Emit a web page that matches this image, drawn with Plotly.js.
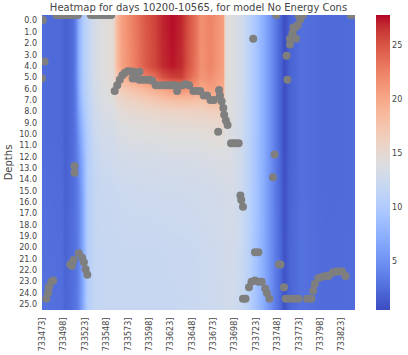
<!DOCTYPE html>
<html><head><meta charset="utf-8">
<script src="https://cdn.plot.ly/plotly-3.0.1.min.js"></script>
<style>html,body{margin:0;padding:0;background:#fff}#chart{width:408px;height:355px}</style>
</head><body><div id="chart"></div>
<script>
// Day index (0 = ordinal day 733473) of each sampled heatmap column
const colDayIdx = [0,22,26,34,38,42,46,52,60,70,82,86,92,100,110,120,130,140,152,162,170,178,186,196,206,211,214,222,232,242,250,258,265,272,278,283,288,302,330,365];
// Depth rows sampled
const rowDepths = [0,4,5,6,7,8,9,10,12,15,20,25];
// Temperature, one row per depth in rowDepths
const temps = [
 [2.4,2.2,1.6,2.4,3.6,6.8,9.8,11.4,13.2,14.1,14.8,18.2,20.5,21.8,23.4,24.8,25.8,27.0,27.6,27.0,25.2,23.6,21.6,22.4,21.2,20.6,14.5,14.0,12.9,11.0,9.2,7.2,5.3,3.4,2.0,0.6,1.8,2.7,2.3,2.4],
 [2.4,2.2,1.6,2.4,3.6,6.8,9.8,11.4,13.2,14.1,14.8,18.0,20.3,21.6,23.2,24.6,25.6,26.8,27.4,26.8,25.0,23.4,21.5,22.3,21.1,20.5,14.5,14.0,12.9,11.0,9.2,7.2,5.3,3.4,2.0,0.6,1.8,2.7,2.3,2.4],
 [2.4,2.2,1.6,2.4,3.6,6.7,9.7,11.3,13.1,14.0,14.7,17.0,19.0,20.0,21.0,22.5,23.5,25.0,26.0,26.0,24.2,22.8,21.2,21.8,20.7,20.3,14.5,14.0,12.9,11.0,9.2,7.2,5.3,3.4,2.0,0.6,1.8,2.7,2.3,2.4],
 [2.4,2.2,1.6,2.4,3.5,6.5,9.5,11.2,13.0,13.9,14.5,16.0,16.8,17.5,18.2,18.8,19.5,20.2,21.0,21.5,21.2,20.8,20.0,20.6,20.0,19.7,14.4,14.0,12.9,11.0,9.2,7.2,5.3,3.4,2.0,0.6,1.8,2.7,2.3,2.4],
 [2.4,2.2,1.6,2.4,3.4,6.2,9.2,11.0,12.8,13.7,14.2,15.0,15.5,15.9,16.3,16.7,17.2,17.6,18.0,18.2,18.2,18.0,17.8,18.6,18.5,18.4,14.4,13.9,12.8,11.0,9.2,7.2,5.3,3.4,2.0,0.6,1.8,2.7,2.3,2.4],
 [2.4,2.2,1.6,2.4,3.3,5.8,8.8,10.8,12.6,13.4,13.8,14.3,14.6,14.9,15.1,15.3,15.5,15.6,15.8,15.9,16.0,16.0,16.0,16.4,16.5,16.5,14.3,13.9,12.8,11.0,9.2,7.2,5.3,3.4,2.0,0.6,1.8,2.7,2.3,2.4],
 [2.4,2.2,1.6,2.4,3.2,5.4,8.3,10.6,12.4,13.1,13.4,13.8,14.1,14.3,14.4,14.5,14.6,14.7,14.8,14.9,15.0,15.0,15.0,15.2,15.3,15.3,14.2,13.8,12.7,10.9,9.2,7.2,5.3,3.4,2.0,0.6,1.8,2.7,2.3,2.4],
 [2.4,2.2,1.6,2.4,3.1,5.0,7.8,10.4,12.2,12.9,13.1,13.4,13.7,13.9,14.0,14.1,14.2,14.2,14.3,14.3,14.3,14.3,14.4,14.6,14.7,14.7,14.1,13.7,12.7,10.9,9.2,7.2,5.3,3.4,2.0,0.6,1.8,2.7,2.3,2.4],
 [2.5,2.3,1.7,2.4,3.0,4.4,7.0,10.2,11.9,12.5,12.7,12.9,13.0,13.1,13.2,13.2,13.3,13.3,13.4,13.4,13.4,13.5,13.5,13.6,13.8,13.8,13.8,13.5,12.6,10.9,9.1,7.2,5.3,3.4,2.0,0.6,1.8,2.7,2.3,2.4],
 [2.6,2.4,1.8,2.4,2.9,3.8,6.4,10.2,11.7,12.1,12.2,12.3,12.4,12.4,12.5,12.5,12.5,12.6,12.6,12.6,12.7,12.7,12.8,12.9,13.0,13.1,13.3,13.2,12.4,10.8,9.1,7.1,5.3,3.4,2.1,0.7,1.9,2.7,2.3,2.4],
 [2.7,2.5,1.9,2.5,2.9,3.7,6.3,10.2,11.7,11.9,12.0,12.0,12.1,12.1,12.1,12.1,12.1,12.1,12.2,12.2,12.2,12.3,12.4,12.5,12.6,12.7,13.0,12.9,12.3,10.8,9.0,7.1,5.3,3.5,2.2,0.8,2.0,2.8,2.4,2.5],
 [2.8,2.6,2.0,2.6,3.0,3.8,6.4,10.3,11.7,11.9,12.0,12.0,12.0,12.0,12.0,12.0,12.0,12.0,12.0,12.1,12.1,12.2,12.3,12.4,12.5,12.6,12.9,12.8,12.2,10.8,9.0,7.1,5.3,3.5,2.2,0.8,2.0,2.8,2.4,2.5]
];
// Gray points: day index and depth
const pointDayIdx = [1,3,0,
 17,20,23,26,29,32,35,38,42, 57,60,63,66,69,72,75,78,81,
 38,38,
 5,7,8,11,13,
 33,35,37,43,47,49,51,53,
 85,88,91,94,97,100,103,107,114,
 106,110,114,118,122,126,129,
 133,137,141,145,149,153,156,158,
 164,168,172,177,181,185,189,193,197,201,
 207,208,210,212,213,215,217,206,
 221,224,227,230,
 247,272,270,274,300,305,302,299,294,296,293,290,297,290,286,287,361,365,
 232,233,235,249,253,277,279,245,249,253,257,242,261,263,266,235,238,283,
 285,290,295,300,310,315,317,319,323,327,331,335,340,344,348,351,355];
const pointDepths = [0.45,4.1,5.6,
 0,0,0,0,0,0,0,0,0, 0,0,0,0,0,0,0,0,0,
 13.3,13.9,
 25.0,24.5,24.0,23.5,23.4,
 22.0,22.1,21.6,21.0,21.4,21.8,22.4,22.9,
 6.7,6.2,5.7,5.3,5.1,4.95,4.95,5.0,5.0,
 5.6,5.6,5.7,5.7,5.7,5.7,5.8,
 6.2,6.2,6.2,6.2,6.2,6.2,6.2,6.7,
 6.2,6.1,6.2,6.7,6.7,6.7,7.1,7.1,7.5,7.5,
 6.6,7.1,7.6,8.2,8.8,9.3,9.7,10.3,
 11.3,11.3,11.3,11.3,
 2.1,12.3,14.3,0,0,0,0.4,0.9,1.1,1.1,1.6,2.1,2.1,2.6,3.6,5.7,0,0,
 15.9,16.3,16.9,20.9,20.9,22.0,22.0,23.5,23.4,23.5,23.5,24.0,24.1,24.5,25.0,25.0,25.0,24.0,
 25.0,25.0,25.0,25.0,25.0,25.0,24.3,23.7,23.2,23.1,23.0,23.0,22.7,22.6,22.6,22.6,23.0];
const xTickIdx = [0,25,50,75,100,125,150,175,200,225,250,275,300,325,350];
const xTickLabels = ['733473]','733498]','733523]','733548]','733573]','733598]','733623]','733648]','733673]','733698]','733723]','733748]','733773]','733798]','733823]'];
const yTickDepths = [0,1,2,3,4,5,6,7,8,9,10,11,12,13,14,15,16,17,18,19,20,21,22,23,24,25];
const yTickLabels = yTickDepths.map(d => d.toFixed(1));
const colorbarTicks = [5,10,15,20,25];

const coolwarm = [
 [0.0,'rgb(59,76,192)'],[0.03125,'rgb(68,90,204)'],[0.0625,'rgb(77,104,215)'],[0.09375,'rgb(87,117,225)'],
 [0.125,'rgb(98,130,234)'],[0.15625,'rgb(108,142,241)'],[0.1875,'rgb(119,154,247)'],[0.21875,'rgb(130,165,251)'],
 [0.25,'rgb(141,176,254)'],[0.28125,'rgb(152,185,255)'],[0.3125,'rgb(163,194,255)'],[0.34375,'rgb(174,201,253)'],
 [0.375,'rgb(184,208,249)'],[0.40625,'rgb(194,213,244)'],[0.4375,'rgb(204,217,238)'],[0.46875,'rgb(213,219,230)'],
 [0.5,'rgb(221,221,221)'],[0.53125,'rgb(229,216,209)'],[0.5625,'rgb(236,211,197)'],[0.59375,'rgb(241,204,185)'],
 [0.625,'rgb(245,196,173)'],[0.65625,'rgb(247,187,160)'],[0.6875,'rgb(247,177,148)'],[0.71875,'rgb(247,166,135)'],
 [0.75,'rgb(244,154,123)'],[0.78125,'rgb(241,141,111)'],[0.8125,'rgb(236,127,99)'],[0.84375,'rgb(229,112,88)'],
 [0.875,'rgb(222,96,77)'],[0.90625,'rgb(213,80,66)'],[0.9375,'rgb(203,62,56)'],[0.96875,'rgb(192,40,47)'],
 [1.0,'rgb(180,4,38)']
];
const txt = '#444444';
const font = 'DejaVu Sans, sans-serif';

const heat = {
  type: 'heatmap',
  x: colDayIdx.map(i => i + 0.5),
  y: rowDepths.map(d => d + 0.5),
  z: temps,
  zsmooth: 'best',
  colorscale: coolwarm,
  zmin: 0.45, zmax: 27.8,
  hoverinfo: 'skip',
  colorbar: {
    thickness: 14, len: 295, lenmode: 'pixels',
    x: 1.0671, xanchor: 'left', xpad: 0, ypad: 0,
    y: 0.5, yanchor: 'middle', outlinewidth: 0,
    tickvals: colorbarTicks, ticks: '',
    tickfont: {family: font, size: 8, color: txt}
  }
};
const pts = {
  type: 'scatter', mode: 'markers',
  x: pointDayIdx, y: pointDepths,
  marker: {color: '#7f7f7f', size: 8, line: {width: 0}},
  hoverinfo: 'skip', showlegend: false
};
const layout = {
  width: 408, height: 355,
  margin: {l: 42, r: 53, t: 15, b: 45, autoexpand: false},
  paper_bgcolor: '#fff', plot_bgcolor: '#fff',
  font: {family: font, color: txt},
  title: {text: 'Heatmap for days 10200-10565, for model No Energy Cons',
          font: {family: font, size: 10, color: txt},
          x: 0.5, xref: 'paper', xanchor: 'center', y: 0.979, yref: 'container', yanchor: 'middle'},
  xaxis: {range: [0, 366], tickvals: xTickIdx.map(i => i + 0.5), ticktext: xTickLabels,
          tickangle: -90, showgrid: false, zeroline: false, showline: false, ticks: '',
          tickfont: {family: font, size: 8, color: txt}, ticklabelstandoff: 5},
  yaxis: {range: [26, 0], tickvals: yTickDepths.map(d => d + 0.5), ticktext: yTickLabels,
          showgrid: false, zeroline: false, showline: false, ticks: '',
          tickfont: {family: font, size: 8, color: txt}, ticklabelstandoff: 4,
          title: {text: 'Depths', font: {family: font, size: 10, color: txt}, standoff: 4}},
  showlegend: false
};
Plotly.newPlot('chart', [heat, pts], layout, {staticPlot: true});
</script>
</body></html>
